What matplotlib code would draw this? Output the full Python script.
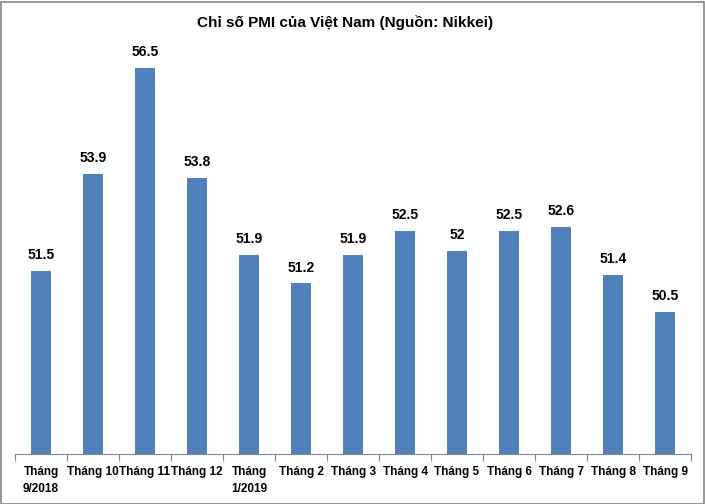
import matplotlib.pyplot as plt
from matplotlib.patches import Rectangle

labels = ["Tháng\n9/2018", "Tháng 10", "Tháng 11", "Tháng 12", "Tháng\n1/2019",
          "Tháng 2", "Tháng 3", "Tháng 4", "Tháng 5", "Tháng 6", "Tháng 7",
          "Tháng 8", "Tháng 9"]
pmi = [51.5, 53.9, 56.5, 53.8, 51.9, 51.2, 51.9, 52.5, 52.0, 52.5, 52.6, 51.4, 50.5]
value_text = ["51.5", "53.9", "56.5", "53.8", "51.9", "51.2", "51.9", "52.5",
              "52", "52.5", "52.6", "51.4", "50.5"]

plt.rcParams['font.family'] = ['Liberation Sans', 'DejaVu Sans']

fig = plt.figure(figsize=(7.05, 5.04), dpi=100)
ax = fig.add_axes([15 / 705, 50 / 504, 676 / 705, 406 / 504])

x = range(len(pmi))
ax.bar(x, pmi, width=0.4, color="#4F81BD", zorder=2)
ax.set_ylim(47, 57)
ax.set_xlim(-0.5, len(pmi) - 0.5)

for i, (v, t) in enumerate(zip(pmi, value_text)):
    ax.text(i, v + 0.22, t, ha="center", va="bottom", fontsize=10, fontweight="bold")

for s in ["top", "right", "left"]:
    ax.spines[s].set_visible(False)
ax.spines["bottom"].set_color("#868686")
ax.set_yticks([])

# ticks between categories
ax.set_xticks([i - 0.5 for i in range(len(pmi) + 1)])
ax.set_xticklabels([])
ax.tick_params(axis="x", length=5, color="#868686", direction="out")
for i, lab in enumerate(labels):
    ax.text(i, 46.7, lab, ha="center", va="top", fontsize=8.5, fontweight="bold",
            linespacing=1.5)

fig.text(0.49, 0.955, "Chỉ số PMI của Việt Nam (Nguồn: Nikkei)", ha="center",
         va="center", fontsize=11, fontweight="bold")

fig.patches.append(Rectangle((0.5 / 705, 0.5 / 504), 703 / 705, 502 / 504,
                             transform=fig.transFigure, fill=False,
                             edgecolor="#868686", linewidth=1.2))

fig.savefig("out.png", dpi=100)
